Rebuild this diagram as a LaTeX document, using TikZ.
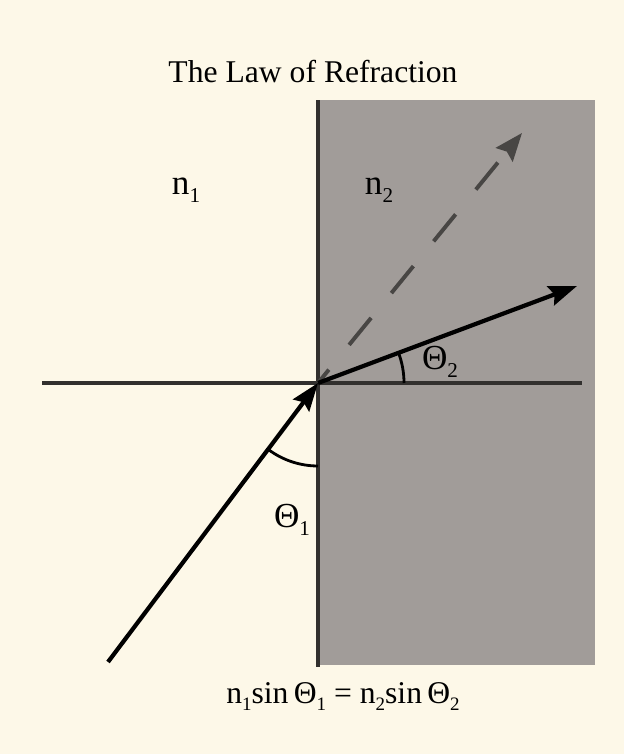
\documentclass[tikz,border=0pt]{standalone}
\usepackage{fontspec}
\setmainfont{Liberation Serif}
\usepackage{graphicx}
\usepackage{tikz}
\usetikzlibrary{arrows.meta,positioning,calc}
\usepackage{xcolor}
\definecolor{cream}{RGB}{253,248,232}
\definecolor{glass}{RGB}{161,156,153}
\definecolor{edge}{RGB}{50,48,46}
\definecolor{ghost}{RGB}{72,70,68}
\newcommand{\idx}[1]{\raisebox{-0.22em}{\scalebox{0.6}{#1}}}

\begin{document}
\begin{tikzpicture}[x=0.025cm, y=0.025cm,
    lbl/.style={font=\fontsize{25}{28}\selectfont, inner sep=0pt},
    ray/.style={line width=3pt, -{Stealth[length=7mm, width=5mm, inset=1mm]}},
    ghost_ray/.style={line width=2.8pt, ghost, dash pattern=on 0.87cm off 0.8cm,
                      dash phase=0.44cm,
                      -{Stealth[length=7mm, width=5.4mm, inset=1mm]}},
    angle_arc/.style={line width=2pt}
]

% Background
\fill[cream] (0,0) rectangle (624,754);
\useasboundingbox (0,0) rectangle (624,754);

% Second medium
\fill[glass] (318,89) rectangle (595,654);
\draw[edge, line width=2.8pt] (318,87) -- (318,654);

% Normal and point of incidence
\coordinate (hit) at (318,371);
\coordinate (left_end) at (42,371);
\coordinate (right_end) at (582,371);
\draw[edge, line width=2.2pt] (left_end) -- (right_end);

% Rays
\coordinate (source) at (108,92);
\coordinate (bent_end) at (577,468);
\coordinate (straight_end) at (522,621);
\draw[ghost_ray] (hit) -- (straight_end);
\draw[ray] (source) -- (hit);
\draw[ray] (hit) -- (bent_end);

% Angles
\draw[angle_arc] (hit) ++(233:83) arc[start angle=233, end angle=270, radius=83];
\draw[angle_arc] (hit) ++(0:86) arc[start angle=0, end angle=20.5, radius=86];

% Labels
\node[lbl, font=\fontsize{22.5}{26}\selectfont] (title) at (313,682) {The Law of Refraction};
\node[lbl] (n_one) at (186,564) {n\idx{1}};
\node[lbl] (n_two) at (379,564) {n\idx{2}};
\node[lbl] (theta_two) at (440,392) {Θ\idx{2}};
\node[lbl] (theta_one) at (292,234) {Θ\idx{1}};
\node[lbl, font=\fontsize{22.5}{26}\selectfont] (snell) at (343,57)
    {n\idx{1}sin\,Θ\idx{1} = n\idx{2}sin\,Θ\idx{2}};

\end{tikzpicture}
\end{document}
